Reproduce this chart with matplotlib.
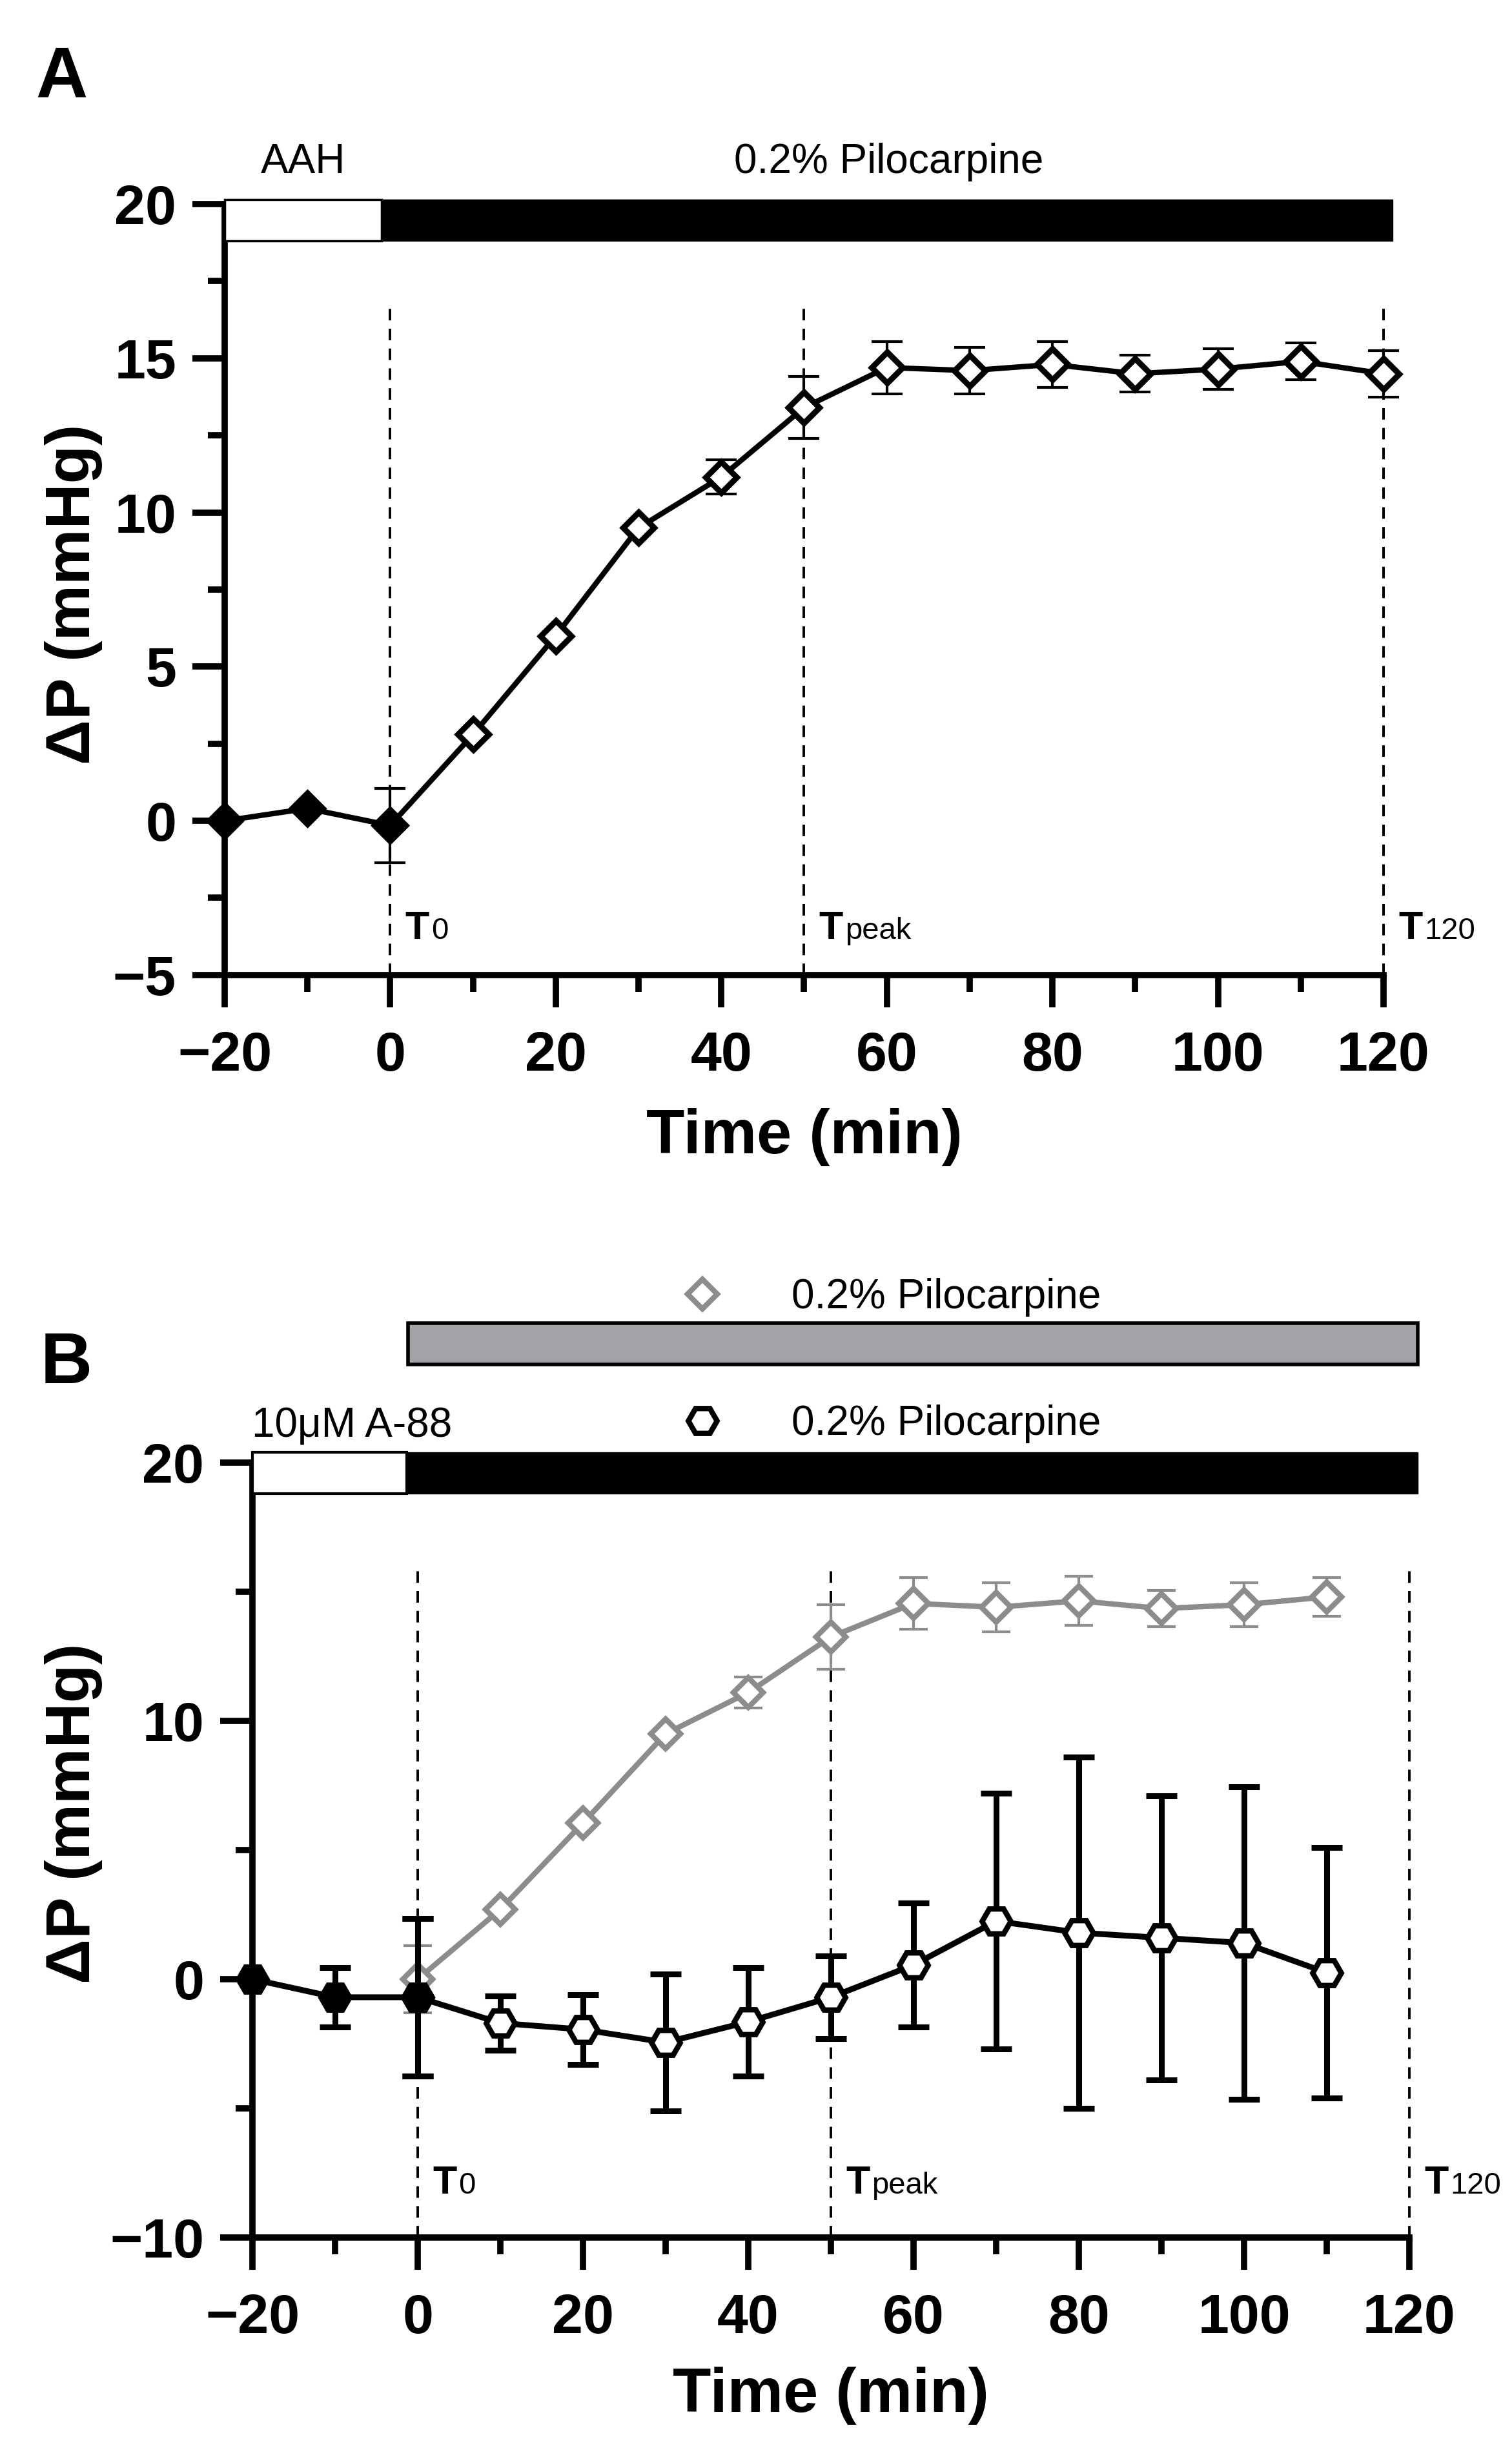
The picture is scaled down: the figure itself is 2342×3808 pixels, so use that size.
import numpy as np
import matplotlib
matplotlib.use('Agg')
import matplotlib.pyplot as plt
from matplotlib.patches import Rectangle
from matplotlib.lines import Line2D
from matplotlib.markers import MarkerStyle

plt.rcParams['font.family'] = ['Liberation Sans', 'DejaVu Sans']

# ---- panel A data ----
a_base_t = [-20, -10, 0]
a_base_y = [0.0, 0.4, -0.15]
a_pilo_t = [0, 10, 20, 30, 40, 50, 60, 70, 80, 90, 100, 110, 120]
a_pilo_y = [-0.15, 2.8, 6.0, 9.5, 11.15, 13.4, 14.7, 14.6, 14.8, 14.5, 14.65, 14.9, 14.5]
a_pilo_err = [1.2, 0.0, 0.0, 0.0, 0.55, 1.0, 0.85, 0.75, 0.75, 0.6, 0.65, 0.6, 0.75]

# ---- panel B data ----
b_ctrl_t = [0, 10, 20, 30, 40, 50, 60, 70, 80, 90, 100, 110]
b_ctrl_y = [0.0, 2.7, 6.05, 9.5, 11.1, 13.25, 14.55, 14.4, 14.65, 14.35, 14.5, 14.8]
b_ctrl_err = [1.3, 0.0, 0.0, 0.0, 0.6, 1.25, 1.0, 0.95, 0.95, 0.7, 0.85, 0.75]
b_base_t = [-20, -10, 0]
b_base_y = [0.0, -0.7, -0.7]
b_base_err = [0.0, 1.15, 3.05]
b_a88_t = [0, 10, 20, 30, 40, 50, 60, 70, 80, 90, 100, 110]
b_a88_y = [-0.7, -1.7, -1.95, -2.45, -1.65, -0.7, 0.55, 2.25, 1.8, 1.6, 1.4, 0.25]
b_a88_err = [3.05, 1.05, 1.35, 2.65, 2.1, 1.6, 2.4, 4.95, 6.8, 5.5, 6.05, 4.85]

ref_t = [0, 50, 120]
ref_names = ['0', 'peak', '120']

# treatment periods: (start, end)
a_vehicle = (-20, -1.05)
a_drug = (-1.05, 121.1)
b_vehicle = (-20, -1.3)
b_drug = (-1.3, 121.0)
b_ctrl_drug = (-1.17, 121.0)

GREY = '#8c8c8c'
BARGREY = '#a3a3a7'
TICKFS = 62
LABFS = 70
TXTFS = 46

diamond = MarkerStyle('D', joinstyle='miter')
hexagon = MarkerStyle('H', joinstyle='miter')


def style_axis(ax, ymin, ymax, ystep, yminor_step):
    ax.set_xlim(-20, 120)
    ax.set_ylim(ymin, ymax)
    for s in ['top', 'right']:
        ax.spines[s].set_visible(False)
    for s in ['left', 'bottom']:
        ax.spines[s].set_linewidth(7)
        ax.spines[s].set_capstyle('projecting')
    ax.set_xticks(np.arange(-20, 121, 20))
    ax.set_xticks(np.arange(-10, 120, 20), minor=True)
    ax.set_yticks(np.arange(ymin, ymax + 0.01, ystep))
    ax.set_yticks(np.arange(ymin + yminor_step, ymax, ystep), minor=True)
    ax.tick_params(which='both', direction='out', width=7)
    ax.tick_params(which='major', length=36)
    ax.tick_params(which='minor', length=19)
    ax.tick_params(axis='x', pad=26, labelsize=TICKFS)
    ax.tick_params(axis='y', pad=18, labelsize=TICKFS)
    for lbl in ax.get_xticklabels() + ax.get_yticklabels():
        lbl.set_fontweight('bold')
    ax.set_xlabel('Time (min)', fontsize=LABFS, fontweight='bold')
    ax.set_ylabel('ΔP (mmHg)', fontsize=LABFS, fontweight='bold')
    ax.xaxis.label.set_va('center')
    ax.yaxis.label.set_va('center')


def ref_lines(ax, ybottom, ytop, ytext):
    ax.vlines(ref_t, ybottom, ytop, colors='k', linewidth=2.8,
              linestyles=[(0, (4.6, 3.3))], zorder=1, clip_on=False)
    for t, name in zip(ref_t, ref_names):
        ax.text(t + 1.8, ytext, 'T', fontsize=44, fontweight='bold', va='baseline')
        ax.annotate(name, xy=(t + 1.8, ytext), xytext=(29, 0),
                    textcoords='offset points', fontsize=34, va='baseline',
                    annotation_clip=False)


def period_bar(ax, span, y0, h, face, edge_lw):
    ax.add_patch(Rectangle((span[0], y0), span[1] - span[0], h, facecolor=face,
                           edgecolor='k', linewidth=edge_lw, clip_on=False, zorder=6))


fig = plt.figure(figsize=(23.42, 38.08), dpi=100)

# ================= panel A =================
axA = fig.add_axes([0.1486, 0.6035, 0.7664, 0.3135])
style_axis(axA, -5, 20, 5, 2.5)
axA.xaxis.set_label_coords(0.5, -0.210)
axA.yaxis.set_label_coords(-0.1304, 0.494)
ref_lines(axA, -5, 16.6, -3.84)

period_bar(axA, a_drug, 18.8, 1.35, 'k', 1.0)
period_bar(axA, a_vehicle, 18.8, 1.35, 'white', 2.5)
axA.text(np.mean(a_vehicle), 21.0, 'AAH', ha='center', va='baseline', fontsize=TXTFS)
axA.text(60.2, 21.0, '0.2% Pilocarpine', ha='center', va='baseline', fontsize=TXTFS)

err = np.array(a_pilo_err)
m = err > 0
axA.errorbar(np.array(a_pilo_t)[m], np.array(a_pilo_y)[m], yerr=err[m], fmt='none',
             ecolor='k', elinewidth=3, capsize=17, capthick=3, zorder=3, clip_on=False)
axA.plot(a_pilo_t, a_pilo_y, '-', color='k', lw=6, marker=diamond, ms=24,
         mfc='white', mec='k', mew=6.5, zorder=4, clip_on=False)
axA.plot(a_base_t, a_base_y, '-', color='k', lw=6, marker=diamond, ms=24,
         mfc='k', mec='k', mew=6.5, zorder=5, clip_on=False)

fig.text(0.0235, 0.9606, 'A', fontsize=80, fontweight='bold', va='baseline')

# ================= panel B =================
axB = fig.add_axes([0.1670, 0.0901, 0.7651, 0.3151])
style_axis(axB, -10, 20, 10, 5)
axB.xaxis.set_label_coords(0.5, -0.204)
axB.yaxis.set_label_coords(-0.1546, 0.547)
ref_lines(axB, -10, 16.1, -8.3)

period_bar(axB, b_ctrl_drug, 23.8, 1.6, BARGREY, 4)
period_bar(axB, b_drug, 18.8, 1.6, 'k', 1.0)
period_bar(axB, b_vehicle, 18.8, 1.6, 'white', 3)
axB.text(-8.0, 21.0, '10μM A-88', ha='center', va='baseline', fontsize=TXTFS)

# control (grey) series
err = np.array(b_ctrl_err)
m = err > 0
axB.errorbar(np.array(b_ctrl_t)[m], np.array(b_ctrl_y)[m], yerr=err[m], fmt='none',
             ecolor=GREY, elinewidth=3, capsize=16, capthick=3, zorder=3, clip_on=False)
axB.plot(b_ctrl_t, b_ctrl_y, '-', color=GREY, lw=6, marker=diamond, ms=23,
         mfc='white', mec=GREY, mew=6, zorder=4, clip_on=False)

# A-88 (black) series
err = np.array(b_base_err)
m = err > 0
axB.errorbar(np.array(b_base_t)[m], np.array(b_base_y)[m], yerr=err[m], fmt='none',
             ecolor='k', elinewidth=6.5, capsize=17.5, capthick=6.5, zorder=5, clip_on=False)
axB.errorbar(b_a88_t, b_a88_y, yerr=b_a88_err, fmt='none',
             ecolor='k', elinewidth=6.5, capsize=17.5, capthick=6.5, zorder=5, clip_on=False)
axB.plot(b_a88_t, b_a88_y, '-', color='k', lw=6.5, marker=hexagon, ms=32,
         mfc='white', mec='k', mew=6, zorder=6, clip_on=False)
axB.plot(b_base_t, b_base_y, '-', color='k', lw=6.5, marker=hexagon, ms=32,
         mfc='k', mec='k', mew=6, zorder=7, clip_on=False)

h_ctrl = Line2D([], [], ls='none', marker=diamond, ms=23, mfc='white', mec=GREY, mew=6)
h_a88 = Line2D([], [], ls='none', marker=hexagon, ms=32, mfc='white', mec='k', mew=6)
leg_kw = dict(loc='center left', bbox_transform=axB.transData, frameon=False,
              handlelength=1.0, handletextpad=1.66, borderpad=0, borderaxespad=0,
              fontsize=TXTFS, numpoints=1)
leg1 = axB.legend([h_ctrl], ['0.2% Pilocarpine'], bbox_to_anchor=(31.95, 26.4), **leg_kw)
axB.add_artist(leg1)
axB.legend([h_a88], ['0.2% Pilocarpine'], bbox_to_anchor=(31.95, 21.5), **leg_kw)

fig.text(0.0269, 0.4375, 'B', fontsize=80, fontweight='bold', va='baseline')

fig.savefig('out.png', dpi=100)
